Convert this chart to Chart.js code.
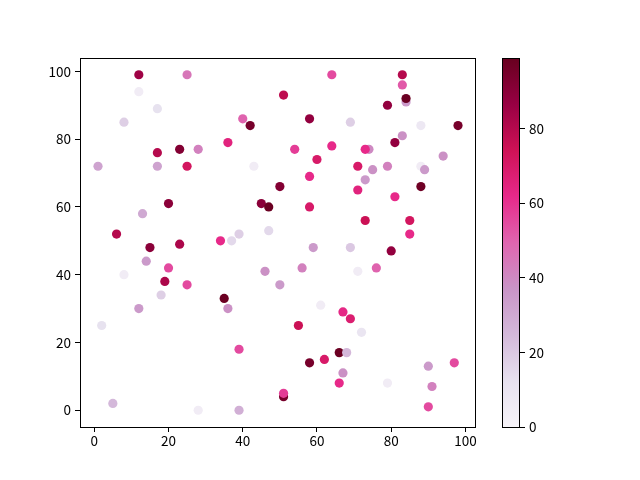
<!DOCTYPE html>
<html>
<head>
<meta charset="utf-8">
<script src="https://cdn.jsdelivr.net/npm/chart.js@4"></script>
<style>
  body { margin: 0; background: #fff; }
  #wrap { position: relative; width: 640px; height: 480px; }
  canvas { position: absolute; left: 0; top: 0; }
</style>
</head>
<body>
<div id="wrap">
  <canvas id="main" width="640" height="480"></canvas>
  <canvas id="cbar" width="640" height="480"></canvas>
</div>
<script>
// 散布図のデータ
var xVals = [12, 25, 12, 17, 8, 40, 42, 51, 36, 23, 28, 17, 1, 17, 25, 43, 50, 20, 45, 47,
             13, 47, 6, 39, 15, 23, 34, 37, 14, 20, 8, 19, 25, 18, 35, 12, 36, 2, 39, 5,
             28, 39, 46, 50, 51, 51, 59, 69, 80, 56, 71, 76, 61, 67, 69, 72, 55, 66, 68, 58,
             62, 67, 66, 79, 90, 97, 91, 90, 64, 83, 83, 84, 84, 79, 58, 69, 88, 98, 83, 81,
             64, 54, 74, 73, 60, 71, 75, 79, 88, 89, 94, 58, 73, 71, 81, 88, 58, 73, 85, 85];
var yVals = [99, 99, 94, 89, 85, 86, 84, 93, 79, 77, 77, 76, 72, 72, 72, 72, 66, 61, 61, 60,
             58, 53, 52, 52, 48, 49, 50, 50, 44, 42, 40, 38, 37, 34, 33, 30, 30, 25, 18, 2,
             0, 0, 41, 37, 4, 5, 48, 48, 47, 42, 41, 42, 31, 29, 27, 23, 25, 17, 17, 14,
             15, 11, 8, 8, 13, 14, 7, 1, 99, 99, 96, 91, 92, 90, 86, 85, 84, 84, 81, 79,
             78, 77, 77, 77, 74, 72, 71, 72, 72, 71, 75, 69, 68, 65, 63, 66, 60, 56, 56, 52];
var cVals = [85, 45, 5, 12, 18, 50, 95, 78, 65, 92, 42, 80, 32, 32, 72, 5, 92, 90, 90, 98,
             30, 15, 80, 18, 90, 82, 62, 15, 35, 55, 5, 82, 55, 18, 98, 35, 38, 12, 55, 25,
             5, 28, 38, 35, 95, 58, 35, 20, 88, 42, 5, 50, 5, 63, 68, 10, 75, 98, 25, 95,
             70, 38, 62, 5, 35, 55, 42, 55, 55, 80, 52, 35, 98, 88, 88, 18, 8, 95, 38, 88,
             62, 58, 40, 62, 70, 70, 38, 42, 5, 35, 38, 62, 35, 65, 62, 97, 70, 75, 72, 62];

var xTicks = [0, 20, 40, 60, 80, 100];
var yTicks = [0, 20, 40, 60, 80, 100];
var cTicks = [0, 20, 40, 60, 80];
var cMin = 0, cMax = 99;

// PuRd カラーマップ
var PuRd = ['#f7f4f9', '#e7e1ef', '#d4b9da', '#c994c7', '#df65b0',
            '#e7298a', '#ce1256', '#980043', '#67001f'];

function hexToRgb(h) {
  return [parseInt(h.substr(1, 2), 16), parseInt(h.substr(3, 2), 16), parseInt(h.substr(5, 2), 16)];
}

function cmap(v) {
  var t = (v - cMin) / (cMax - cMin);
  t = Math.max(0, Math.min(1, t));
  var p = t * (PuRd.length - 1);
  var i = Math.min(Math.floor(p), PuRd.length - 2);
  var f = p - i;
  var a = hexToRgb(PuRd[i]), b = hexToRgb(PuRd[i + 1]);
  var c = a.map((x, k) => Math.round(x + (b[k] - x) * f));
  return 'rgb(' + c.join(',') + ')';
}

var tickFont = { family: '"Noto Sans CJK SC", "Noto Sans", sans-serif', size: 13.5 };

// 枠線を描くプラグイン
const frame = {
  id: 'frame',
  afterDraw(chart) {
    const a = chart.chartArea;
    const c = chart.ctx;
    c.save();
    c.strokeStyle = '#000';
    c.lineWidth = 1;
    c.strokeRect(Math.round(a.left) + 0.5, Math.round(a.top) + 0.5,
                 Math.round(a.right - a.left) - 1, Math.round(a.bottom - a.top));
    c.restore();
  }
};

const points = xVals.map((x, i) => ({ x: x, y: yVals[i] }));

new Chart(document.getElementById('main'), {
  type: 'scatter',
  data: {
    datasets: [{
      data: points,
      backgroundColor: cVals.map(cmap),
      borderWidth: 0,
      pointRadius: 4.6,
      pointHoverRadius: 4.6
    }]
  },
  options: {
    responsive: false,
    animation: false,
    devicePixelRatio: 1,
    layout: { padding: { left: 0, top: 58, right: 164, bottom: 0 } },
    plugins: { legend: { display: false }, tooltip: { enabled: false } },
    scales: {
      x: {
        type: 'linear',
        min: -3.85, max: 102.85,
        afterBuildTicks: s => { s.ticks = xTicks.map(v => ({ value: v })); },
        afterFit: s => { s.height = 53; },
        grid: { drawOnChartArea: false, tickLength: 5, color: '#000', lineWidth: 1 },
        border: { display: false },
        ticks: { color: '#000', font: tickFont, padding: 1, maxRotation: 0 }
      },
      y: {
        type: 'linear',
        min: -4.95, max: 103.95,
        afterBuildTicks: s => { s.ticks = yTicks.map(v => ({ value: v })); },
        afterFit: s => { s.width = 80; },
        grid: { drawOnChartArea: false, tickLength: 5, color: '#000', lineWidth: 1 },
        border: { display: false },
        ticks: { color: '#000', font: tickFont, padding: 4 }
      }
    }
  },
  plugins: [frame]
});

// カラーバー
new Chart(document.getElementById('cbar'), {
  type: 'bar',
  data: {
    labels: ['c'],
    datasets: [{
      data: [[cMin, cMax]],
      barPercentage: 1,
      categoryPercentage: 1,
      borderWidth: 0,
      backgroundColor: ctx => {
        const chart = ctx.chart;
        if (!chart.chartArea) return PuRd[4];
        const ys = chart.scales.y;
        const g = chart.ctx.createLinearGradient(0, ys.getPixelForValue(cMin), 0, ys.getPixelForValue(cMax));
        PuRd.forEach((col, i) => g.addColorStop(i / (PuRd.length - 1), col));
        return g;
      }
    }]
  },
  options: {
    responsive: false,
    animation: false,
    devicePixelRatio: 1,
    layout: { padding: { left: 502, top: 58, right: 0, bottom: 53 } },
    plugins: { legend: { display: false }, tooltip: { enabled: false } },
    scales: {
      x: { display: false },
      y: {
        position: 'right',
        min: cMin, max: cMax,
        afterBuildTicks: s => { s.ticks = cTicks.map(v => ({ value: v })); },
        afterFit: s => { s.width = 120; },
        grid: { drawOnChartArea: false, tickLength: 5, color: '#000', lineWidth: 1 },
        border: { display: false },
        ticks: { color: '#000', font: tickFont, padding: 4 }
      }
    }
  },
  plugins: [frame]
});
</script>
</body>
</html>
